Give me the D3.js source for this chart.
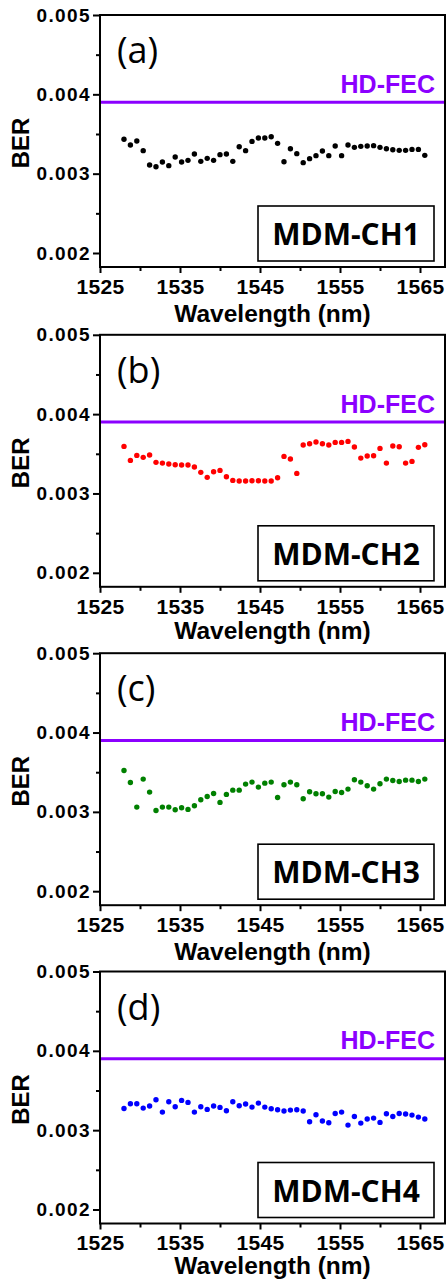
<!DOCTYPE html>
<html>
<head>
<meta charset="utf-8">
<script src="https://cdn.jsdelivr.net/npm/d3@7"></script>
<style>
  html, body { margin: 0; padding: 0; background: #fff; }
  svg { display: block; }
</style>
</head>
<body>
<svg id="chart" width="446" height="1282"></svg>
<script>
// Channel wavelengths (nm), 0.8 nm grid
const wavelengths = [
  1528.0, 1528.8, 1529.6, 1530.4, 1531.2, 1532.0, 1532.8, 1533.6, 1534.4, 1535.2,
  1536.0, 1536.8, 1537.6, 1538.4, 1539.2, 1540.0, 1540.8, 1541.6, 1542.4, 1543.2,
  1544.0, 1544.8, 1545.6, 1546.4, 1547.2, 1548.0, 1548.8, 1549.6, 1550.4, 1551.2,
  1552.0, 1552.8, 1553.6, 1554.4, 1555.2, 1556.0, 1556.8, 1557.6, 1558.4, 1559.2,
  1560.0, 1560.8, 1561.6, 1562.4, 1563.2, 1564.0, 1564.8, 1565.6
];

// Measured BER per mode channel
const berCH1 = [
  0.003433, 0.003361, 0.003411, 0.003290, 0.003109, 0.003088, 0.003147, 0.003101, 0.003210, 0.003147,
  0.003168, 0.003248, 0.003155, 0.003193, 0.003168, 0.003240, 0.003248, 0.003155, 0.003340, 0.003290,
  0.003407, 0.003449, 0.003449, 0.003466, 0.003382, 0.003151, 0.003315, 0.003252, 0.003139, 0.003189,
  0.003227, 0.003285, 0.003227, 0.003348, 0.003227, 0.003361, 0.003332, 0.003344, 0.003348, 0.003353,
  0.003332, 0.003315, 0.003302, 0.003294, 0.003294, 0.003306, 0.003306, 0.003231
];
const berCH2 = [
  0.003593, 0.003417, 0.003480, 0.003455, 0.003484, 0.003392, 0.003383, 0.003371, 0.003362, 0.003358,
  0.003358, 0.003333, 0.003266, 0.003203, 0.003274, 0.003291, 0.003211, 0.003165, 0.003157, 0.003157,
  0.003161, 0.003161, 0.003157, 0.003157, 0.003199, 0.003467, 0.003434, 0.003253, 0.003610, 0.003627,
  0.003648, 0.003627, 0.003610, 0.003644, 0.003644, 0.003656, 0.003585, 0.003446, 0.003472, 0.003476,
  0.003568, 0.003383, 0.003598, 0.003589, 0.003383, 0.003404, 0.003581, 0.003614
];
const berCH3 = [
  0.003522, 0.003371, 0.003060, 0.003413, 0.003249, 0.003018, 0.003060, 0.003060, 0.003026, 0.003052,
  0.003031, 0.003077, 0.003152, 0.003194, 0.003232, 0.003119, 0.003220, 0.003274, 0.003274, 0.003350,
  0.003375, 0.003312, 0.003362, 0.003375, 0.003182, 0.003341, 0.003375, 0.003341, 0.003165, 0.003253,
  0.003228, 0.003228, 0.003186, 0.003257, 0.003245, 0.003287, 0.003404, 0.003375, 0.003329, 0.003287,
  0.003354, 0.003413, 0.003396, 0.003383, 0.003400, 0.003400, 0.003383, 0.003413
];
const berCH4 = [
  0.003274, 0.003333, 0.003333, 0.003278, 0.003304, 0.003383, 0.003228, 0.003358, 0.003295, 0.003375,
  0.003350, 0.003228, 0.003295, 0.003262, 0.003304, 0.003287, 0.003245, 0.003358, 0.003308, 0.003329,
  0.003291, 0.003341, 0.003291, 0.003270, 0.003257, 0.003241, 0.003253, 0.003257, 0.003241, 0.003106,
  0.003194, 0.003115, 0.003094, 0.003211, 0.003228, 0.003064, 0.003173, 0.003089, 0.003140, 0.003152,
  0.003098, 0.003207, 0.003173, 0.003211, 0.003203, 0.003190, 0.003165, 0.003140
];

const seriesValues = [berCH1, berCH2, berCH3, berCH4];
const panelLabels = ["(a)", "(b)", "(c)", "(d)"];
const channelNames = ["MDM-CH1", "MDM-CH2", "MDM-CH3", "MDM-CH4"];
const dotColors = ["#000000", "#ff0000", "#008000", "#0000ff"];

const hdFecLimit = 0.0039;
const hdFecLabel = "HD-FEC";
const xTickValues = [1525, 1535, 1545, 1555, 1565];
const xMinorTicks = [1530, 1540, 1550, 1560];
const yTickValues = [0.002, 0.003, 0.004, 0.005];
const yMinorTicks = [0.0025, 0.0035, 0.0045];
const xTitle = "Wavelength (nm)";
const yTitle = "BER";

// Layout
const panelTops = [0, 319.8, 638.2, 956.5];
const xTitleBaseline = [322, 319, 322, 317.5];   // per-panel, below each panel's top
const plot = { left: 100, right: 445, top: 15, bottom: 267 };
const purple = "#8b00ff";

const svg = d3.select("#chart");

const x = d3.scaleLinear().domain([1525, 1568.125]).range([plot.left, plot.right]);
const y = d3.scaleLinear().domain([0.0018235, 0.005]).range([plot.bottom, plot.top]);

const tickFont = "'Liberation Sans', Arial, sans-serif";

seriesValues.forEach((vals, i) => {
  const g = svg.append("g").attr("transform", `translate(0,${panelTops[i]})`);

  // HD-FEC threshold
  g.append("line")
    .attr("x1", plot.left).attr("x2", plot.right)
    .attr("y1", y(hdFecLimit)).attr("y2", y(hdFecLimit))
    .attr("stroke", purple).attr("stroke-width", 3);
  g.append("text")
    .attr("x", 435).attr("y", y(hdFecLimit) - 9.5)
    .attr("text-anchor", "end")
    .attr("font-family", tickFont).attr("font-weight", "bold")
    .attr("font-size", 25).attr("fill", purple)
    .text(hdFecLabel);

  // Data points
  g.append("g").selectAll("circle")
    .data(wavelengths.map((w, k) => [w, vals[k]]))
    .join("circle")
    .attr("cx", d => x(d[0]))
    .attr("cy", d => y(d[1]))
    .attr("r", 2.7)
    .attr("fill", dotColors[i]);

  // Panel tag
  g.append("text")
    .attr("x", 117).attr("y", 63)
    .attr("font-family", "'Open Sans', sans-serif")
    .attr("font-size", 36)
    .attr("fill", "#000")
    .text(panelLabels[i]);

  // Channel name box
  g.append("rect")
    .attr("x", 258).attr("y", 206).attr("width", 176).attr("height", 55)
    .attr("fill", "#fff").attr("stroke", "#000").attr("stroke-width", 1.6);
  g.append("text")
    .attr("x", 346).attr("y", 245)
    .attr("text-anchor", "middle")
    .attr("font-family", "'Open Sans', sans-serif").attr("font-weight", "bold")
    .attr("font-size", 30).attr("fill", "#000")
    .text(channelNames[i]);

  // Axes
  const xAxis = g.append("g")
    .attr("transform", `translate(0,${plot.bottom})`)
    .call(d3.axisBottom(x).tickValues(xTickValues).tickSize(6).tickPadding(6).tickFormat(d3.format("d")));
  const xMinor = g.append("g")
    .attr("transform", `translate(0,${plot.bottom})`)
    .call(d3.axisBottom(x).tickValues(xMinorTicks).tickSize(4).tickFormat(""));
  const yAxis = g.append("g")
    .attr("transform", `translate(${plot.left},0)`)
    .call(d3.axisLeft(y).tickValues(yTickValues).tickSize(7).tickPadding(2).tickFormat(d3.format(".3f")));
  const yMinor = g.append("g")
    .attr("transform", `translate(${plot.left},0)`)
    .call(d3.axisLeft(y).tickValues(yMinorTicks).tickSize(4).tickFormat(""));

  [xAxis, xMinor, yAxis, yMinor].forEach(a => {
    a.select(".domain").remove();
    a.selectAll(".tick line").attr("stroke", "#000").attr("stroke-width", 2);
    a.selectAll(".tick text")
      .attr("font-family", tickFont).attr("font-weight", "bold")
      .attr("fill", "#000");
  });
  xAxis.selectAll(".tick text").attr("font-size", 21).style("letter-spacing", "0.3px");
  yAxis.selectAll(".tick text").attr("font-size", 19).style("letter-spacing", "1.4px");

  // Frame
  g.append("rect")
    .attr("x", plot.left).attr("y", plot.top)
    .attr("width", plot.right - plot.left).attr("height", plot.bottom - plot.top)
    .attr("fill", "none").attr("stroke", "#000").attr("stroke-width", 2);

  // Axis titles
  g.append("text")
    .attr("x", (plot.left + plot.right) / 2).attr("y", xTitleBaseline[i])
    .attr("text-anchor", "middle")
    .attr("font-family", tickFont).attr("font-weight", "bold")
    .attr("font-size", 24.5).attr("fill", "#000")
    .text(xTitle);
  g.append("text")
    .attr("transform", `translate(29,143) rotate(-90)`)
    .attr("text-anchor", "middle")
    .attr("font-family", tickFont).attr("font-weight", "bold")
    .attr("font-size", 24).attr("fill", "#000")
    .text(yTitle);
});
</script>
</body>
</html>
